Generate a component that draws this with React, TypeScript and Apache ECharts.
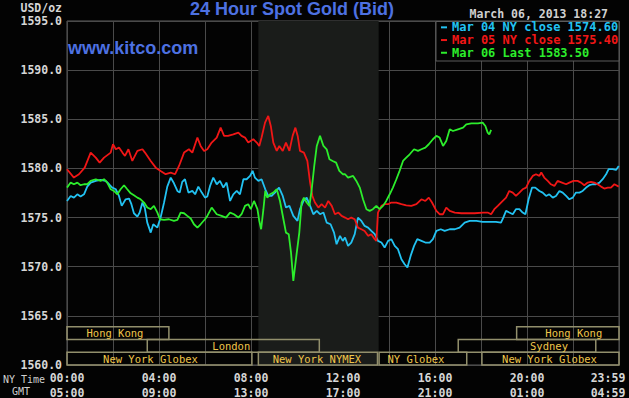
import React, { useEffect, useRef } from 'react';
import * as echarts from 'echarts';

// [hour of NY day, USD/oz]
const mar04Close: [number, number][] = [
  [0, 1576.69], [0.16, 1577.2], [0.3, 1577.03], [0.45, 1577.37], [0.59, 1577.14], [0.74, 1577.37], [0.88, 1578.15],
  [1.03, 1578.56], [1.25, 1578.73], [1.46, 1578.83], [1.68, 1578.73], [1.83, 1578.39], [1.97, 1578.05], [2.12, 1577.88],
  [2.26, 1577.2], [2.38, 1576.19], [2.55, 1576.86], [2.7, 1576.93], [2.8, 1576.36], [2.91, 1575.44], [3.06, 1575.1],
  [3.16, 1575.51], [3.28, 1576.53], [3.38, 1576.02], [3.49, 1574.49], [3.64, 1573.47], [3.75, 1574.32], [3.93, 1573.98],
  [4.07, 1575.0], [4.22, 1576.53], [4.36, 1578.15], [4.51, 1579.07], [4.65, 1578.49], [4.8, 1577.71], [4.9, 1577.54],
  [5.01, 1578.63], [5.13, 1578.9], [5.28, 1577.54], [5.45, 1577.71], [5.57, 1577.37], [5.71, 1578.15], [5.86, 1577.54],
  [6.0, 1577.03], [6.1, 1577.14], [6.22, 1578.22], [6.36, 1579.07], [6.51, 1578.39], [6.65, 1578.73], [6.8, 1578.05],
  [6.94, 1578.56], [7.09, 1576.69], [7.23, 1577.37], [7.38, 1577.71], [7.52, 1577.37], [7.67, 1578.9], [7.81, 1578.9],
  [7.96, 1579.24], [8.07, 1579.75], [8.17, 1579.07], [8.32, 1578.73], [8.46, 1578.9], [8.62, 1577.88], [8.75, 1577.2],
  [8.9, 1577.2], [9.04, 1577.54], [9.22, 1578.05], [9.38, 1577.2], [9.52, 1576.02], [9.67, 1576.19], [9.84, 1575.17],
  [10.02, 1574.66], [10.13, 1575.85], [10.28, 1576.69], [10.42, 1577.03], [10.57, 1576.19], [10.71, 1575.34],
  [10.86, 1575.68], [11.0, 1575.34], [11.15, 1575.51], [11.29, 1574.49], [11.46, 1574.32], [11.61, 1573.47],
  [11.72, 1572.29], [11.87, 1573.14], [11.99, 1572.63], [12.09, 1572.97], [12.22, 1572.12], [12.36, 1572.46],
  [12.51, 1573.31], [12.65, 1575.0], [12.8, 1574.66], [12.94, 1574.15], [13.09, 1573.98], [13.23, 1573.64],
  [13.38, 1573.31], [13.52, 1572.63], [13.67, 1572.46], [13.81, 1571.95], [13.96, 1572.63], [14.1, 1572.8],
  [14.25, 1572.12], [14.39, 1571.78], [14.54, 1570.76], [14.68, 1570.25], [14.8, 1569.92], [14.94, 1571.1],
  [15.09, 1572.12], [15.23, 1572.8], [15.41, 1572.63], [15.58, 1572.46], [15.77, 1572.46], [15.91, 1572.8],
  [16.06, 1573.64], [16.25, 1573.81], [16.42, 1573.64], [16.64, 1573.81], [16.86, 1573.81], [17.07, 1573.98],
  [17.29, 1574.49], [17.51, 1574.66], [17.8, 1574.66], [18.07, 1574.56], [18.36, 1574.56], [18.65, 1574.56],
  [18.87, 1574.49], [18.97, 1575.0], [19.09, 1575.68], [19.23, 1575.51], [19.38, 1575.34], [19.52, 1575.85],
  [19.67, 1575.85], [19.81, 1575.51], [19.93, 1575.34], [20.07, 1576.86], [20.22, 1578.05], [20.36, 1578.05],
  [20.54, 1577.71], [20.68, 1577.54], [20.83, 1577.2], [20.97, 1577.37], [21.12, 1577.03], [21.26, 1577.2],
  [21.41, 1577.71], [21.55, 1577.54], [21.7, 1577.2], [21.84, 1576.86], [21.99, 1577.03], [22.13, 1577.54],
  [22.28, 1577.54], [22.42, 1577.71], [22.57, 1578.05], [22.71, 1578.29], [22.86, 1578.39], [23.0, 1578.39],
  [23.15, 1578.56], [23.29, 1578.9], [23.44, 1579.41], [23.55, 1579.92], [23.72, 1579.92], [23.87, 1579.85],
  [23.99, 1580.25],
];

const mar05Close: [number, number][] = [
  [0, 1579.92], [0.3, 1579.07], [0.52, 1579.41], [0.77, 1580.08], [1.03, 1581.61], [1.25, 1581.1], [1.42, 1580.59],
  [1.61, 1581.1], [1.9, 1581.61], [2.0, 1582.46], [2.12, 1581.95], [2.26, 1582.12], [2.41, 1581.61], [2.52, 1581.27],
  [2.67, 1581.95], [2.84, 1580.76], [3.06, 1581.78], [3.28, 1581.95], [3.39, 1581.61], [3.64, 1580.76], [3.86, 1580.08],
  [4.07, 1579.75], [4.29, 1579.41], [4.51, 1579.58], [4.7, 1579.41], [4.87, 1580.25], [5.09, 1581.61], [5.3, 1581.95],
  [5.45, 1581.61], [5.67, 1583.14], [5.81, 1582.29], [5.96, 1581.78], [6.1, 1581.95], [6.29, 1582.63], [6.51, 1583.14],
  [6.68, 1584.15], [6.83, 1583.31], [7.0, 1583.31], [7.23, 1583.47], [7.45, 1583.64], [7.59, 1583.31], [7.74, 1583.14],
  [7.88, 1582.63], [8.1, 1582.97], [8.25, 1582.63], [8.36, 1582.29], [8.46, 1583.14], [8.61, 1584.66], [8.75, 1585.34],
  [8.86, 1584.32], [8.97, 1582.63], [9.12, 1581.78], [9.23, 1582.29], [9.38, 1581.78], [9.52, 1582.63], [9.67, 1581.78],
  [9.81, 1583.31], [9.93, 1584.15], [10.03, 1583.31], [10.13, 1581.78], [10.3, 1581.61], [10.45, 1580.76],
  [10.57, 1578.56], [10.67, 1577.2], [10.78, 1576.53], [10.93, 1576.02], [11.07, 1576.36], [11.22, 1576.02],
  [11.36, 1576.69], [11.51, 1576.19], [11.65, 1575.34], [11.8, 1575.51], [11.94, 1575.17], [12.09, 1575.0],
  [12.22, 1574.83], [12.36, 1575.0], [12.51, 1574.83], [12.65, 1573.98], [12.8, 1573.81], [12.94, 1573.64],
  [13.09, 1573.14], [13.23, 1573.31], [13.38, 1572.8], [13.45, 1572.63], [13.52, 1575.51], [13.67, 1576.19],
  [13.81, 1576.36], [13.96, 1576.36], [14.1, 1576.53], [14.32, 1576.53], [14.54, 1576.36], [14.75, 1576.25],
  [14.97, 1576.19], [15.19, 1576.36], [15.41, 1576.86], [15.58, 1576.69], [15.73, 1577.03], [15.87, 1576.53],
  [16.06, 1575.68], [16.2, 1575.34], [16.35, 1575.34], [16.49, 1576.02], [16.64, 1575.68], [16.86, 1575.51],
  [17.15, 1575.44], [17.44, 1575.44], [17.72, 1575.44], [18.09, 1575.51], [18.29, 1575.51], [18.44, 1575.34],
  [18.58, 1575.85], [18.73, 1576.19], [18.87, 1576.53], [19.09, 1577.03], [19.23, 1577.71], [19.38, 1577.54],
  [19.52, 1577.2], [19.67, 1577.54], [19.81, 1577.88], [19.96, 1578.05], [20.1, 1578.73], [20.25, 1579.24],
  [20.39, 1579.41], [20.54, 1579.24], [20.62, 1579.58], [20.75, 1579.07], [20.9, 1578.73], [21.04, 1578.39],
  [21.19, 1578.22], [21.33, 1578.73], [21.52, 1578.56], [21.7, 1578.39], [21.84, 1578.56], [22.02, 1578.73],
  [22.2, 1578.73], [22.35, 1578.56], [22.49, 1578.29], [22.64, 1578.56], [22.78, 1578.63], [22.93, 1578.56],
  [23.07, 1578.39], [23.22, 1578.15], [23.36, 1577.95], [23.51, 1578.05], [23.65, 1578.05], [23.8, 1578.39],
  [23.99, 1578.15],
];

const mar06Last: [number, number][] = [
  [0, 1578.05], [0.16, 1578.56], [0.3, 1578.39], [0.45, 1578.56], [0.59, 1578.29], [0.74, 1578.39], [0.88, 1578.39],
  [1.03, 1578.73], [1.25, 1578.9], [1.46, 1578.73], [1.61, 1578.9], [1.75, 1578.56], [1.9, 1577.88], [2.04, 1577.71],
  [2.19, 1577.37], [2.33, 1577.88], [2.48, 1578.29], [2.62, 1577.88], [2.77, 1577.47], [2.91, 1577.27], [3.06, 1577.03],
  [3.2, 1576.86], [3.35, 1576.53], [3.49, 1576.02], [3.64, 1575.85], [3.78, 1576.19], [3.93, 1575.51], [4.04, 1574.83],
  [4.22, 1574.76], [4.43, 1574.83], [4.65, 1574.66], [4.8, 1574.76], [4.94, 1575.51], [5.09, 1575.44], [5.23, 1575.17],
  [5.38, 1574.9], [5.52, 1574.32], [5.67, 1573.98], [5.81, 1574.32], [6.0, 1574.83], [6.1, 1575.17], [6.29, 1576.02],
  [6.51, 1575.34], [6.72, 1575.17], [6.91, 1575.0], [7.09, 1575.51], [7.26, 1575.34], [7.45, 1575.0], [7.59, 1575.34],
  [7.74, 1576.19], [7.88, 1576.36], [7.99, 1575.85], [8.13, 1576.69], [8.28, 1575.85], [8.36, 1574.66], [8.44, 1573.81],
  [8.54, 1575.85], [8.62, 1577.71], [8.71, 1577.03], [8.83, 1577.37], [8.97, 1577.54], [9.12, 1577.88], [9.26, 1576.69],
  [9.41, 1574.83], [9.52, 1573.47], [9.64, 1573.31], [9.74, 1571.44], [9.84, 1568.56], [9.99, 1571.44], [10.1, 1573.47],
  [10.2, 1576.53], [10.3, 1577.03], [10.42, 1576.53], [10.54, 1576.19], [10.64, 1577.88], [10.75, 1580.25],
  [10.86, 1582.29], [11.0, 1583.31], [11.15, 1582.29], [11.29, 1581.95], [11.41, 1580.93], [11.55, 1580.76],
  [11.7, 1580.59], [11.84, 1579.75], [11.99, 1579.41], [12.09, 1579.41], [12.22, 1579.07], [12.44, 1579.24],
  [12.58, 1578.73], [12.73, 1578.05], [12.87, 1576.86], [13.02, 1575.85], [13.16, 1575.68], [13.3, 1575.85],
  [13.45, 1576.19], [13.59, 1575.85], [13.74, 1576.19], [13.88, 1576.69], [14.03, 1577.37], [14.17, 1578.05],
  [14.32, 1578.9], [14.46, 1579.75], [14.61, 1580.76], [14.75, 1581.1], [14.9, 1581.44], [15.09, 1581.95],
  [15.26, 1581.78], [15.41, 1581.95], [15.58, 1582.12], [15.73, 1582.46], [15.91, 1582.97], [16.06, 1583.31],
  [16.2, 1583.14], [16.35, 1582.29], [16.49, 1582.8], [16.64, 1583.98], [16.78, 1583.81], [17.0, 1583.98],
  [17.22, 1584.15], [17.36, 1584.49], [17.58, 1584.59], [17.87, 1584.59], [18.07, 1584.66], [18.19, 1584.32],
  [18.29, 1583.64], [18.36, 1583.47], [18.44, 1583.92],
];

const seriesNames = ['Mar 04 NY close 1574.60', 'Mar 05 NY close 1575.40', 'Mar 06 Last 1583.50'];
const seriesColors = ['#22c2f2', '#f01616', '#2ced2c'];

// trading sessions (NY hours), drawn as boxes along the bottom
const sessionNames = ['Hong Kong', 'London', 'New York Globex', 'New York NYMEX', 'NY Globex', 'Sydney', 'New York Globex', 'Hong Kong'];
const sessionStart = [0, 3.49, 0, 8.32, 13.57, 17.01, 18.04, 19.55];
const sessionEnd = [4.43, 10.97, 8.04, 13.5, 17.38, 22.99, 24, 24];
const sessionRow = [0, 1, 2, 2, 2, 1, 2, 0];
const nymexShade = [8.32, 13.55];

const Y_MIN = 1560;
const Y_MAX = 1595;
const ROW_H = 1.3;
const labelShift = [-3, -2, -9, -1, -7, 22, -1, 6];

const MONO = '"DejaVu Sans Mono", monospace';
const SANS = '"Liberation Sans", Arial, sans-serif';

const pad = (n: number) => (n < 10 ? '0' + n : '' + n);

export default function App() {
  const ref = useRef<HTMLDivElement>(null);
  useEffect(() => {
    if (!ref.current) return;
    const chart = echarts.init(ref.current, undefined, { renderer: 'svg' });
    const lines = [mar04Close, mar05Close, mar06Last].map((d, i) => ({
      name: seriesNames[i],
      type: 'line',
      data: d,
      showSymbol: false,
      symbol: 'none',
      z: 3,
      lineStyle: { color: seriesColors[i], width: 1.8 },
      itemStyle: { color: seriesColors[i] },
    }));
    const sessionData = sessionNames.map((n, i) => {
      const top = Y_MIN + (3 - sessionRow[i]) * ROW_H;
      const bottom = top - ROW_H;
      return [
        { name: n, xAxis: sessionStart[i], yAxis: top, label: { offset: [labelShift[i], 0] } },
        { xAxis: sessionEnd[i], yAxis: bottom },
      ];
    });
    chart.setOption({
      animation: false,
      backgroundColor: '#030303',
      title: {
        text: '24 Hour Spot Gold (Bid)',
        left: 190,
        top: 0,
        padding: 0,
        textStyle: { color: '#4d71e2', fontSize: 18, fontWeight: 'bold', fontFamily: SANS },
      },
      grid: {
        left: 67, top: 21, width: 552, height: 344,
        outerBoundsMode: 'none',
        containLabel: false,
        show: true, borderColor: '#5c5c5c', borderWidth: 1, backgroundColor: 'transparent',
      },
      legend: {
        orient: 'vertical',
        left: 441,
        top: 21,
        padding: 0,
        itemGap: 0,
        itemWidth: 6,
        itemHeight: 2,
        icon: 'rect',
        selectedMode: false,
        data: seriesNames.map((n, i) => ({ name: n, textStyle: { color: seriesColors[i] } })),
        textStyle: { fontFamily: MONO, fontWeight: 'bold', fontSize: 12, lineHeight: 12.7 },
      },
      xAxis: {
        type: 'value',
        min: 0,
        max: 24,
        interval: 2,
        axisLine: { show: false },
        axisTick: { show: false },
        splitLine: { show: true, lineStyle: { color: '#4a4a4a', width: 1 } },
        axisLabel: {
          color: '#d6d6d6',
          fontFamily: MONO,
          fontWeight: 'bold',
          fontSize: 11.5,
          lineHeight: 15,
          margin: 5,
          showMaxLabel: true,
          formatter: (v: number) => {
            const h = Math.round(v);
            if (h % 4 !== 0) return '';
            if (h === 24) return '{e|23:59}\n{e|04:59}';
            return pad(h) + ':00\n' + pad((h + 5) % 24) + ':00';
          },
          rich: {
            e: {
              color: '#d6d6d6', fontFamily: MONO, fontWeight: 'bold', fontSize: 11.5, lineHeight: 15,
              padding: [0, 22, 0, 0],
            },
          },
        },
      },
      yAxis: {
        type: 'value',
        min: Y_MIN,
        max: Y_MAX,
        interval: 5,
        axisLine: { show: false },
        axisTick: { show: false },
        splitLine: { show: true, lineStyle: { color: '#4a4a4a', width: 1 } },
        axisLabel: {
          color: '#d6d6d6',
          fontFamily: MONO,
          fontWeight: 'bold',
          fontSize: 11.5,
          margin: 5,
          formatter: (v: number) => v.toFixed(1),
        },
      },
      graphic: [
        { type: 'rect', z: 1, shape: { x: 436, y: 21.5, width: 183, height: 39.5 }, style: { fill: '#030303', stroke: '#5c5c5c', lineWidth: 1 } },
        { type: 'text', x: 62, y: 8, style: { text: 'USD/oz', fill: '#d6d6d6', font: `bold 11.5px ${MONO}`, align: 'right', verticalAlign: 'middle' } },
        { type: 'text', x: 68, y: 48, z: 5, style: { text: 'www.kitco.com', fill: '#4d71e2', font: `bold 18px ${SANS}`, align: 'left', verticalAlign: 'middle' } },
        { type: 'text', x: 608, y: 14, style: { text: 'March 06, 2013 18:27', fill: '#d0d0d0', font: `bold 11.5px ${MONO}`, align: 'right', verticalAlign: 'middle' } },
        { type: 'text', x: 3, y: 379, style: { text: 'NY Time', fill: '#d0d0d0', font: `10px ${MONO}`, align: 'left', verticalAlign: 'middle' } },
        { type: 'text', x: 12, y: 391, style: { text: 'GMT', fill: '#d0d0d0', font: `10px ${MONO}`, align: 'left', verticalAlign: 'middle' } },
      ],
      series: [
        {
          name: 'shade',
          type: 'line',
          data: [],
          z: -1,
          silent: true,
          markArea: {
            silent: true,
            itemStyle: { color: '#1a1c1a' },
            data: [[{ xAxis: nymexShade[0] }, { xAxis: nymexShade[1] }]],
          },
        },
        ...lines,
        {
          name: 'sessions',
          type: 'line',
          data: [],
          z: 4,
          silent: true,
          markArea: {
            silent: true,
            itemStyle: { color: 'rgba(0,0,0,0)', borderColor: '#928f6c', borderWidth: 1.5 },
            label: {
              show: true,
              position: 'inside',
              color: '#f0c64a',
              fontFamily: MONO,
              fontSize: 10.5,
            },
            data: sessionData,
          },
        },
      ],
    });
    return () => chart.dispose();
  }, []);
  return <div ref={ref} style={{ position: 'fixed', left: 0, top: 0, width: 629, height: 398 }} />;
}
